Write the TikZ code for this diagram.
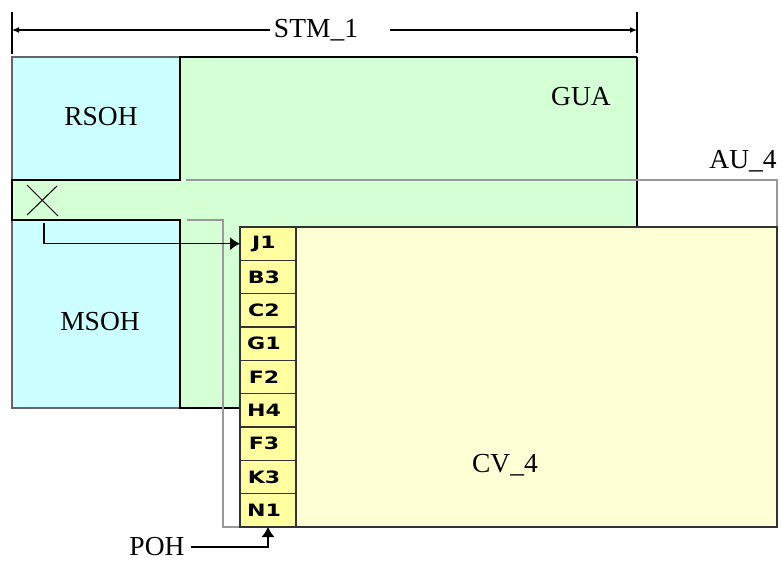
\documentclass[tikz,border=0pt]{standalone}
\usepackage{fontspec}
\setmainfont{Liberation Serif}
\newfontfamily\cellfont[FakeStretch=1.3]{DejaVu Sans}
\usetikzlibrary{arrows.meta}
\definecolor{soh}{HTML}{CCFFFF}
\definecolor{gua}{HTML}{D5FFD5}
\definecolor{cvfill}{HTML}{FFFFD5}
\definecolor{cellfill}{HTML}{FFFFA0}
\definecolor{auline}{HTML}{999999}
\begin{document}
\begin{tikzpicture}[x=1pt,y=-1pt,
  box/.style={rectangle,anchor=north west,inner sep=0pt,outer sep=0pt},
  lbl/.style={font=\fontsize{27.5}{30}\selectfont,inner sep=0pt},
  cellbox/.style={box,fill=cellfill,draw=black!80,line width=1.2pt,minimum width=56pt,minimum height=33.333pt},
  celltext/.style={font=\cellfont\bfseries\fontsize{17}{17}\selectfont,inner sep=0pt},
  thin/.style={line width=1.2pt},
  aul/.style={auline,line width=1.3pt},
  bigtip/.style={-{Latex[length=10pt,width=13pt]}},
  smalltip/.style={-{Latex[length=7pt,width=6pt]}}]
\path[use as bounding box,fill=white] (0,0) rectangle (782,562);
% GUA region
\node[box,fill=gua,minimum width=457pt,minimum height=351pt] (gua) at (180,57) {};
\node[box,fill=soh,draw=black!60,thin,minimum width=168pt,minimum height=123pt] (rsoh) at (12,57) {};
\node[box,fill=soh,draw=black!60,thin,minimum width=168pt,minimum height=188pt] (msoh) at (12,220) {};
\node[box,fill=gua,minimum width=168pt,minimum height=40pt] (ptr) at (12,180) {};
\draw[line width=2.8pt,line join=miter] (637,57) -- (180,57) -- (180,180) -- (12,180) -- (12,220) -- (180,220) -- (180,408) -- (240,408);
\draw[thin] (637,57) -- (637,227);
% AU_4 outline
\draw[aul] (186,180) -- (777,180) -- (777,227);
\draw[aul] (187,220) -- (223,220) -- (223,527) -- (240,527);
% CV_4
\node[box,fill=cvfill,draw=black!80,thin,minimum width=537pt,minimum height=300pt] (cv) at (240,227) {};
\foreach \i/\t in {0/J1,1/B3,2/C2,3/G1,4/F2,5/H4,6/F3,7/K3,8/N1}{
  \node[cellbox] (c\i) at (240,{227+33.333*\i}) {};
  \node[celltext] (t\i) at ([xshift=-4pt]c\i.center) {\t};
}
% pointer X
\draw[line width=1pt] (27,185) -- (58,216) (27,215) -- (57,186);
\coordinate (xs) at (44,223);
\draw[thin,bigtip] (xs) |- (c0.west);
% labels
\node[lbl] (rsohT) at (101,117) {RSOH};
\node[lbl] (msohT) at (100,322) {MSOH};
\node[lbl] (guaT) at (581,97) {GUA};
\node[lbl] (auT) at (743,161) {AU\_4};
\node[lbl] (cvT) at (505,465) {CV\_4};
\node[lbl] (poh) at (157,547) {POH};
\draw[thin,bigtip] ([xshift=6pt]poh.east) -| (c8.south);
% STM_1 dimension
\node[lbl] (stm) at (316,30) {STM\_1};
\coordinate (dl) at (12,30);
\coordinate (dr) at (637,30);
\draw[thin] (12,12) -- (12,54);
\draw[thin] (637,12) -- (637,53);
\draw[thin,smalltip] ([xshift=-4pt]stm.west) -- (dl);
\draw[thin,smalltip] ([xshift=32pt]stm.east) -- (dr);
\end{tikzpicture}
\end{document}
